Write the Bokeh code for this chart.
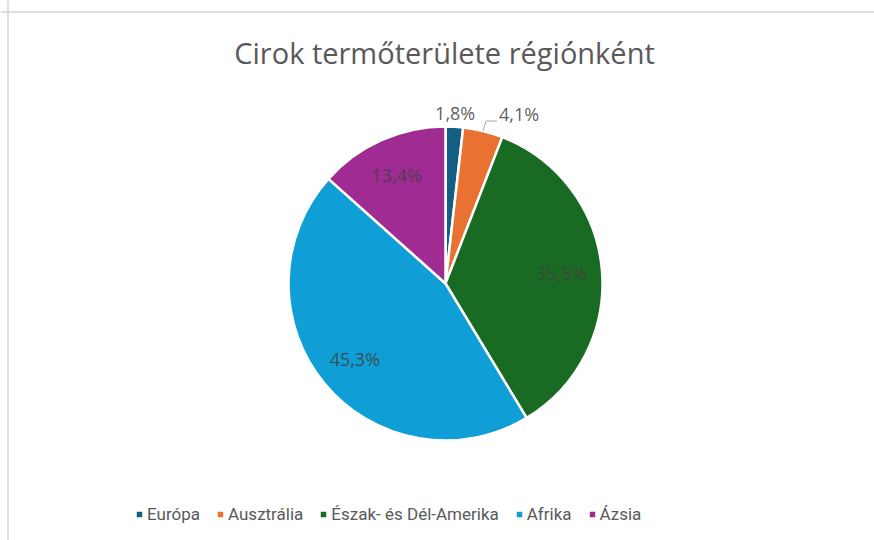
import math
from bokeh.plotting import figure
from bokeh.models import ColumnDataSource, Range1d, Legend, LegendItem, Span, Label
from bokeh.core.properties import value
from bokeh.embed import file_html
from bokeh.resources import INLINE

# ---- data ----
title_text = "Cirok termőterülete régiónként"
regions = ["Európa", "Ausztrália", "Észak- és Dél-Amerika", "Afrika", "Ázsia"]
shares = [1.8, 4.1, 35.5, 45.3, 13.4]
colors = ["#156082", "#E97132", "#196B24", "#0F9ED5", "#A02B93"]

# ---- layout (pixels; data units == pixels) ----
W, H = 874, 540
cx, cy, R = 445, 257, 157
label_rf = [1.09, None, 0.74, 0.75, 0.76]  # radius factor for labels (None = leader line)

total = sum(shares)
starts, ends, mids = [], [], []
cum = 0.0
for s in shares:
    a0 = math.pi / 2 - 2 * math.pi * cum / total
    cum += s
    a1 = math.pi / 2 - 2 * math.pi * cum / total
    starts.append(a0)
    ends.append(a1)
    mids.append((a0 + a1) / 2)

src = ColumnDataSource(dict(region=regions, share=shares, color=colors,
                            start=starts, end=ends))

p = figure(width=W, height=H, output_backend="svg", toolbar_location=None,
           x_range=Range1d(0, W), y_range=Range1d(0, H), min_border=0,
           background_fill_color="white", border_fill_color="white")
p.axis.visible = False
p.grid.visible = False
p.outline_line_color = None

# frame-like border (cropped screenshot edge)
p.add_layout(Span(location=H - 11.5, dimension="width", line_color="#d4d4d4", line_width=1.5))
p.add_layout(Span(location=7.5, dimension="height", line_color="#d4d4d4", line_width=1.5))

r = p.wedge(x=cx, y=cy, radius=R, start_angle="start", end_angle="end",
            direction="clock", fill_color="color", line_color="white",
            line_width=2.5, source=src)

# labels
lab_x, lab_y, lab_t, lab_align = [], [], [], []
for i, (s, m) in enumerate(zip(shares, mids)):
    txt = f"{s:.1f}%".replace(".", ",")
    if label_rf[i] is None:
        # leader line label
        px, py = cx + R * math.cos(m), cy + R * math.sin(m)
        p.line(x=[px, px + 3, px + 14], y=[py, py + 10, py + 10],
               line_color="#a6a6a6", line_width=1)
        lab_x.append(px + 16)
        lab_y.append(py + 17)
        lab_t.append(txt)
        lab_align.append("left")
    else:
        f = label_rf[i]
        lab_x.append(cx + f * R * math.cos(m))
        lab_y.append(cy + f * R * math.sin(m))
        lab_t.append(txt)
        lab_align.append("center")

lsrc = ColumnDataSource(dict(x=lab_x, y=lab_y, t=lab_t, a=lab_align))
p.text(x="x", y="y", text="t", source=lsrc, text_align="a", text_baseline="middle",
       text_font=value("Open Sans"), text_font_size="18px", text_color="#404040",
       text_alpha=0.85)

# title
p.add_layout(Label(x=444, y=H - 52, text=title_text, text_align="center",
                   text_baseline="middle", text_font="Open Sans",
                   text_font_size="29px", text_color="#595959"))

# legend
items = [LegendItem(label=reg, renderers=[r], index=i) for i, reg in enumerate(regions)]
leg = Legend(items=items, orientation="horizontal", location=(134, 16),
             glyph_width=10, glyph_height=10, label_standoff=3, spacing=15,
             padding=0, margin=0, border_line_color=None, background_fill_alpha=0,
             label_text_font="Roboto", label_text_font_size="17px",
             label_text_color="#595959")
p.add_layout(leg)

open("out.html", "w").write(file_html(p, INLINE))
